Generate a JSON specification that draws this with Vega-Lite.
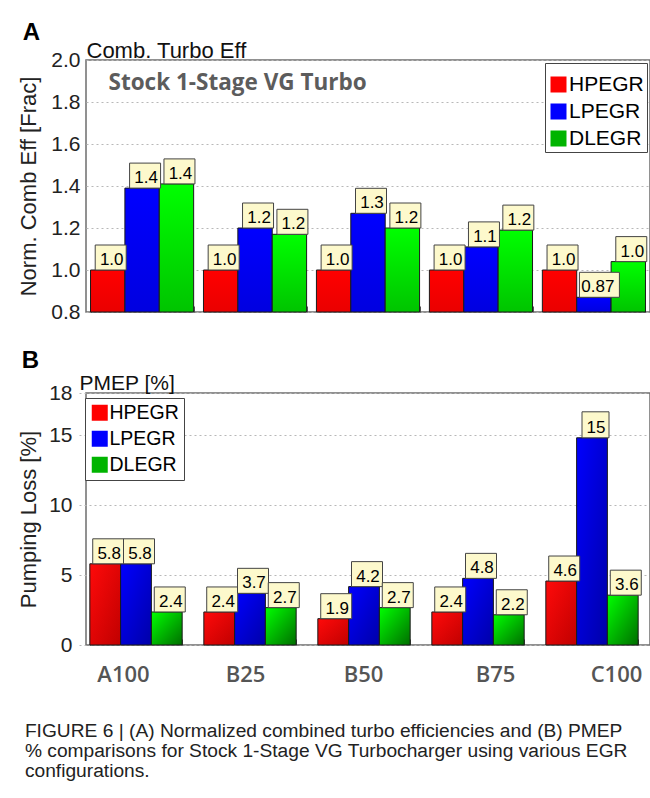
{
  "$schema": "https://vega.github.io/schema/vega-lite/v6.json",
  "background": "white",
  "padding": {"left": 16, "top": 20, "right": 2, "bottom": 12},
  "config": {
    "font": "Liberation Sans",
    "view": {"stroke": "#6e6e6e", "strokeWidth": 1.5},
    "axis": {"labelFont": "Liberation Sans", "titleFont": "Liberation Sans"}
  },
  "datasets": {
    "eff": [
      {"case": "A100", "egr": "HPEGR", "v": 1.0},
      {"case": "A100", "egr": "LPEGR", "v": 1.39},
      {"case": "A100", "egr": "DLEGR", "v": 1.41},
      {"case": "B25", "egr": "HPEGR", "v": 1.0},
      {"case": "B25", "egr": "LPEGR", "v": 1.2},
      {"case": "B25", "egr": "DLEGR", "v": 1.17},
      {"case": "B50", "egr": "HPEGR", "v": 1.0},
      {"case": "B50", "egr": "LPEGR", "v": 1.27},
      {"case": "B50", "egr": "DLEGR", "v": 1.2},
      {"case": "B75", "egr": "HPEGR", "v": 1.0},
      {"case": "B75", "egr": "LPEGR", "v": 1.11},
      {"case": "B75", "egr": "DLEGR", "v": 1.19},
      {"case": "C100", "egr": "HPEGR", "v": 1.0},
      {"case": "C100", "egr": "LPEGR", "v": 0.87},
      {"case": "C100", "egr": "DLEGR", "v": 1.04}
    ],
    "pmep": [
      {"case": "A100", "egr": "HPEGR", "v": 5.8},
      {"case": "A100", "egr": "LPEGR", "v": 5.8},
      {"case": "A100", "egr": "DLEGR", "v": 2.36},
      {"case": "B25", "egr": "HPEGR", "v": 2.36},
      {"case": "B25", "egr": "LPEGR", "v": 3.69},
      {"case": "B25", "egr": "DLEGR", "v": 2.67},
      {"case": "B50", "egr": "HPEGR", "v": 1.88},
      {"case": "B50", "egr": "LPEGR", "v": 4.17},
      {"case": "B50", "egr": "DLEGR", "v": 2.67},
      {"case": "B75", "egr": "HPEGR", "v": 2.36},
      {"case": "B75", "egr": "LPEGR", "v": 4.76},
      {"case": "B75", "egr": "DLEGR", "v": 2.16},
      {"case": "C100", "egr": "HPEGR", "v": 4.57},
      {"case": "C100", "egr": "LPEGR", "v": 14.8},
      {"case": "C100", "egr": "DLEGR", "v": 3.56}
    ]
  },
  "title": {
    "text": [
      "FIGURE 6 | (A) Normalized combined turbo efficiencies and (B) PMEP",
      "% comparisons for Stock 1-Stage VG Turbocharger using various EGR",
      "configurations."
    ],
    "orient": "bottom",
    "anchor": "start",
    "frame": "bounds",
    "dx": 8,
    "offset": 36,
    "font": "Liberation Sans",
    "fontSize": 19.2,
    "fontWeight": "normal",
    "color": "#222",
    "lineHeight": 20
  },
  "columns": 1,
  "spacing": 25,
  "align": "none",
  "bounds": "full",
  "resolve": {
    "scale": {"x": "independent", "xOffset": "independent", "y": "independent", "fill": "independent"},
    "axis": {"x": "independent", "y": "independent"},
    "legend": {"fill": "independent"}
  },
  "concat": [
    {
      "data": {"name": "eff"},
      "width": 564,
      "height": 252,
      "title": {"text": "A", "anchor": "start", "frame": "bounds", "dx": 5, "offset": -6, "font": "Liberation Sans", "fontSize": 24, "fontWeight": "bold", "color": "#000"},
      "encoding": {
        "y": {"field": "v", "type": "quantitative",
          "scale": {"domain": [0.8, 2.0], "nice": false, "zero": false},
          "axis": {"title": "Norm. Comb Eff  [Frac]", "values": [0.8, 1.0, 1.2, 1.4, 1.6, 1.8, 2.0], "format": ".1f",
            "grid": true, "gridDash": [2, 3], "gridColor": "#b8b8b8", "domain": false, "ticks": false,
            "labelFontSize": 21, "labelColor": "#222", "labelPadding": 6,
            "titleFontSize": 22, "titleFontWeight": "normal", "titleColor": "#222", "titlePadding": 10}}
      },
      "layer": [
        {
          "mark": {"type": "bar", "stroke": "#1a1a1a", "strokeWidth": 1},
          "encoding": {
            "x": {"field": "case", "type": "nominal", "sort": ["A100", "B25", "B50", "B75", "C100"],
              "scale": {"paddingInner": 0.087, "paddingOuter": 0.04},
              "axis": {"title": null, "labels": false, "domain": false, "grid": false, "ticks": true, "tickBand": "extent", "tickSize": -6, "tickColor": "#555", "tickWidth": 1}},
            "xOffset": {"field": "egr", "type": "nominal", "sort": ["HPEGR", "LPEGR", "DLEGR"], "scale": {"paddingInner": 0, "paddingOuter": 0}},
            "y2": {"datum": 0.8},
            "fill": {
              "field": "egr", "type": "nominal",
              "scale": {"domain": ["HPEGR", "LPEGR", "DLEGR"], "range": ["#ff0000", "#0000ff", "#00b400"]},
              "legend": {"title": "\u00a0", "titleFontSize": 8, "titlePadding": 0, "orient": "top-right", "offset": 3, "symbolType": "square", "symbolSize": 256, "symbolStrokeWidth": 0,
                "labelFontSize": 21, "labelFont": "Liberation Sans", "labelColor": "#000", "labelOffset": 0,
                "rowPadding": 5, "padding": 3, "strokeColor": "#444", "fillColor": "#fff"},
              "condition": [
                {"test": "datum.egr === 'HPEGR'", "value": {"gradient": "linear", "x1": 0, "y1": 0, "x2": 0, "y2": 1, "stops": [{"offset": 0, "color": "#ff0000"}, {"offset": 1, "color": "#ea0000"}]}},
                {"test": "datum.egr === 'LPEGR'", "value": {"gradient": "linear", "x1": 0, "y1": 0, "x2": 0, "y2": 1, "stops": [{"offset": 0, "color": "#0000ff"}, {"offset": 1, "color": "#0000e0"}]}},
                {"test": "datum.egr === 'DLEGR'", "value": {"gradient": "linear", "x1": 0, "y1": 0, "x2": 0, "y2": 1, "stops": [{"offset": 0, "color": "#00ff00"}, {"offset": 1, "color": "#00c400"}]}}
              ]
            }
          }
        },
        {
          "mark": {"type": "point", "filled": true, "fill": "#fdf9cc", "stroke": "#444", "strokeWidth": 1, "size": 625, "opacity": 1},
          "encoding": {
            "x": {"field": "case", "type": "nominal", "sort": ["A100", "B25", "B50", "B75", "C100"], "axis": null},
            "xOffset": {"field": "egr", "type": "nominal", "sort": ["HPEGR", "LPEGR", "DLEGR"]},
            "shape": {
              "condition": [
                {"test": "datum.v < 0.995", "value": "M-1.16,-2H2.04V0H-1.16Z"},
                {"test": "datum.v >= 9.95", "value": "M-0.8,-2.08H1.36V0H-0.8Z"}
              ],
              "value": "M-1,-2H1.48V0H-1Z"
            }
          }
        },
        {
          "mark": {"type": "text", "dx": 4, "dy": -5, "baseline": "alphabetic", "fontSize": 17, "color": "#000"},
          "encoding": {
            "x": {"field": "case", "type": "nominal", "sort": ["A100", "B25", "B50", "B75", "C100"],
              "axis": {"orient": "top", "title": "Comb. Turbo Eff", "titleAnchor": "start", "titleAlign": "left", "titleBaseline": "alphabetic",
                "titleFontSize": 22, "titleFontWeight": "normal", "titleColor": "#111", "titlePadding": 3,
                "labels": false, "ticks": false, "domain": false, "grid": false}},
            "xOffset": {"field": "egr", "type": "nominal", "sort": ["HPEGR", "LPEGR", "DLEGR"]},
            "text": {"field": "v", "type": "quantitative", "format": ".2r"}
          }
        },
        {
          "transform": [{"filter": "datum.case === 'A100' && datum.egr === 'HPEGR'"}],
          "mark": {"type": "text", "align": "left", "baseline": "middle", "dx": 18, "font": "Open Sans", "fontSize": 22.5, "fontWeight": "bold", "color": "#5c5c5c"},
          "encoding": {
            "x": {"datum": "A100", "type": "nominal", "bandPosition": 0, "axis": null},
            "y": {"datum": 1.89, "type": "quantitative"},
            "text": {"value": "Stock 1-Stage VG Turbo"}
          }
        }
      ],
      "resolve": {"axis": {"x": "independent"}}
    },
    {
      "data": {"name": "pmep"},
      "width": 564,
      "height": 252,
      "title": {"text": "B", "anchor": "start", "frame": "bounds", "dx": 4, "offset": -1, "font": "Liberation Sans", "fontSize": 24, "fontWeight": "bold", "color": "#000"},
      "encoding": {
        "y": {"field": "v", "type": "quantitative",
          "scale": {"domain": [0, 18], "nice": false},
          "axis": {"title": "Pumping Loss [%]", "values": [0, 5, 10, 15, 18], "format": "d",
            "grid": true, "gridDash": [2, 3], "gridColor": "#b8b8b8", "domain": false, "ticks": false,
            "labelFontSize": 21, "labelColor": "#222", "labelPadding": 14,
            "titleFontSize": 22, "titleFontWeight": "normal", "titleColor": "#222", "titlePadding": 8}}
      },
      "layer": [
        {
          "mark": {"type": "bar", "stroke": "#1a1a1a", "strokeWidth": 1},
          "encoding": {
            "x": {"field": "case", "type": "nominal", "sort": ["A100", "B25", "B50", "B75", "C100"],
              "scale": {"range": [-7, 563], "paddingInner": 0.19, "paddingOuter": 0.095},
              "axis": {"title": null, "domain": false, "grid": false, "ticks": true, "tickBand": "extent", "tickSize": -6, "tickColor": "#555", "tickWidth": 1,
                "labelAngle": 0, "labelFont": "Open Sans", "labelFontSize": 22, "labelFontWeight": 600, "labelColor": "#555", "labelPadding": 25,
                "labelOffset": {"condition": [
                  {"test": "datum.value === 'A100'", "value": -13},
                  {"test": "datum.value === 'B25'", "value": -5},
                  {"test": "datum.value === 'B50'", "value": -1},
                  {"test": "datum.value === 'B75'", "value": 17},
                  {"test": "datum.value === 'C100'", "value": 24}
                ], "value": 0}}},
            "xOffset": {"field": "egr", "type": "nominal", "sort": ["HPEGR", "LPEGR", "DLEGR"], "scale": {"paddingInner": 0, "paddingOuter": 0}},
            "y2": {"datum": 0},
            "fill": {
              "field": "egr", "type": "nominal",
              "scale": {"domain": ["HPEGR", "LPEGR", "DLEGR"], "range": ["#ff0000", "#0000ff", "#00b400"]},
              "legend": {"title": null, "orient": "none", "legendX": -1, "legendY": 5, "symbolType": "square", "symbolSize": 256, "symbolStrokeWidth": 0,
                "labelFontSize": 19.5, "labelFont": "Liberation Sans", "labelColor": "#000", "labelOffset": 0,
                "rowPadding": 5, "padding": 5, "strokeColor": "#444", "fillColor": "#fff"},
              "condition": [
                {"test": "datum.egr === 'HPEGR'", "value": {"gradient": "linear", "x1": 0, "y1": 0, "x2": 1, "y2": 1, "stops": [{"offset": 0, "color": "#ff0a0a"}, {"offset": 1, "color": "#c00000"}]}},
                {"test": "datum.egr === 'LPEGR'", "value": {"gradient": "linear", "x1": 0, "y1": 0, "x2": 1, "y2": 1, "stops": [{"offset": 0, "color": "#0000ff"}, {"offset": 1, "color": "#0000a8"}]}},
                {"test": "datum.egr === 'DLEGR'", "value": {"gradient": "linear", "x1": 0, "y1": 0, "x2": 1, "y2": 1, "stops": [{"offset": 0, "color": "#00ff00"}, {"offset": 1, "color": "#006e00"}]}}
              ]
            }
          }
        },
        {
          "mark": {"type": "point", "filled": true, "fill": "#fdf9cc", "stroke": "#444", "strokeWidth": 1, "size": 625, "opacity": 1},
          "encoding": {
            "x": {"field": "case", "type": "nominal", "sort": ["A100", "B25", "B50", "B75", "C100"], "axis": null},
            "xOffset": {"field": "egr", "type": "nominal", "sort": ["HPEGR", "LPEGR", "DLEGR"]},
            "shape": {
              "condition": [
                {"test": "datum.v < 0.995", "value": "M-1.16,-2H2.04V0H-1.16Z"},
                {"test": "datum.v >= 9.95", "value": "M-0.8,-2.08H1.36V0H-0.8Z"}
              ],
              "value": "M-1,-2H1.48V0H-1Z"
            }
          }
        },
        {
          "mark": {"type": "text", "dx": 4, "dy": -5, "baseline": "alphabetic", "fontSize": 17, "color": "#000"},
          "encoding": {
            "x": {"field": "case", "type": "nominal", "sort": ["A100", "B25", "B50", "B75", "C100"],
              "axis": {"orient": "top", "title": "PMEP [%]", "titleAnchor": "start", "titleAlign": "left", "titleBaseline": "alphabetic",
                "titleFontSize": 21, "titleFontWeight": "normal", "titleColor": "#111", "titlePadding": 4,
                "labels": false, "ticks": false, "domain": false, "grid": false}},
            "xOffset": {"field": "egr", "type": "nominal", "sort": ["HPEGR", "LPEGR", "DLEGR"]},
            "text": {"field": "v", "type": "quantitative", "format": ".2r"}
          }
        }
      ],
      "resolve": {"axis": {"x": "independent"}}
    }
  ]
}
